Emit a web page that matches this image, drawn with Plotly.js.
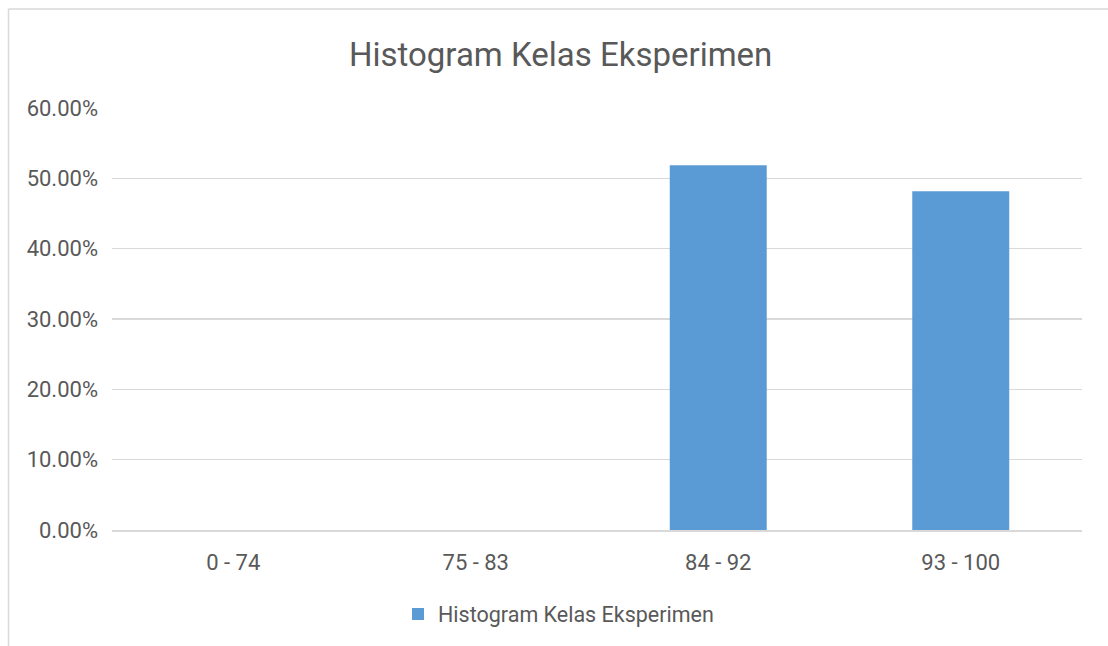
<!DOCTYPE html>
<html>
<head>
<meta charset="utf-8">
<script src="https://cdn.plot.ly/plotly-3.0.1.min.js"></script>
<style>
  html, body { margin: 0; padding: 0; background: #ffffff; }
  #chart { width: 1108px; height: 646px; }
</style>
</head>
<body>
<div id="chart"></div>
<script>
const categories = ["0 - 74", "75 - 83", "84 - 92", "93 - 100"];
const percentages = [0, 0, 0.5185, 0.4815];
const seriesName = "Histogram Kelas Eksperimen";
const chartTitle = "Histogram Kelas Eksperimen";

const textColor = "#595959";
const gridColor = "#D9D9D9";
const barColor = "#5B9BD5";
const fontFamily = "Roboto, 'Open Sans', sans-serif";

const trace = {
  type: "bar",
  x: categories,
  y: percentages,
  name: seriesName,
  marker: { color: barColor, line: { width: 0 } },
  showlegend: true,
  hoverinfo: "x+y"
};

const layout = {
  width: 1108,
  height: 646,
  margin: { l: 112, r: 26, t: 108, b: 116 },
  paper_bgcolor: "#ffffff",
  plot_bgcolor: "#ffffff",
  font: { family: fontFamily, color: textColor, size: 22 },
  title: {
    text: chartTitle,
    font: { family: fontFamily, size: 33, color: textColor },
    x: 0.506,
    xref: "container",
    xanchor: "center",
    y: 1 - 54 / 646,
    yref: "container",
    yanchor: "middle"
  },
  bargap: 0.6,
  xaxis: {
    type: "category",
    showgrid: false,
    showline: true,
    linecolor: gridColor,
    linewidth: 1.5,
    ticks: "",
    tickfont: { family: fontFamily, size: 22, color: textColor },
    ticklabelstandoff: 12,
    zeroline: false,
    fixedrange: true
  },
  yaxis: {
    range: [0, 0.6],
    dtick: 0.1,
    tick0: 0,
    tickformat: ".2%",
    showgrid: true,
    gridcolor: gridColor,
    gridwidth: 1.5,
    zeroline: false,
    showline: false,
    ticks: "",
    tickfont: { family: fontFamily, size: 22, color: textColor },
    ticklabelstandoff: 13,
    fixedrange: true
  },
  showlegend: true,
  legend: {
    orientation: "h",
    x: (398 - 112) / 970,
    xanchor: "left",
    y: (530 - 614) / 422,
    yanchor: "middle",
    font: { family: fontFamily, size: 21.5, color: textColor },
    bgcolor: "rgba(0,0,0,0)"
  },
  shapes: [
    {
      type: "line", xref: "paper", yref: "paper",
      x0: (8.5 - 112) / 970, x1: (1108 - 112) / 970,
      y0: (530 - 9) / 422, y1: (530 - 9) / 422,
      line: { color: gridColor, width: 1.5 }
    },
    {
      type: "line", xref: "paper", yref: "paper",
      x0: (8.5 - 112) / 970, x1: (8.5 - 112) / 970,
      y0: (530 - 9) / 422, y1: (530 - 646) / 422,
      line: { color: gridColor, width: 1.5 }
    }
  ]
};

Plotly.newPlot("chart", [trace], layout, { displayModeBar: false, staticPlot: true });
</script>
</body>
</html>
